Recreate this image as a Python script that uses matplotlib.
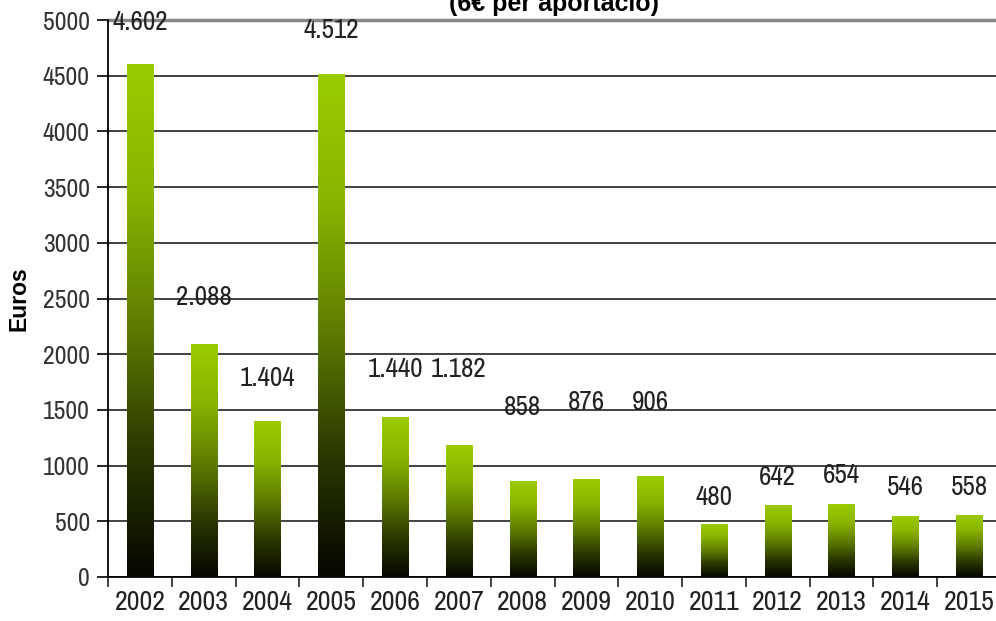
import numpy as np
import matplotlib.pyplot as plt
from matplotlib import font_manager
from matplotlib.colors import LinearSegmentedColormap
from matplotlib.ticker import MultipleLocator, FixedLocator

# data
years = ['2002', '2003', '2004', '2005', '2006', '2007', '2008',
         '2009', '2010', '2011', '2012', '2013', '2014', '2015']
euros = [4602, 2088, 1404, 4512, 1440, 1182, 858, 876, 906, 480, 642, 654, 546, 558]
value_labels = ['4.602', '2.088', '1.404', '4.512', '1.440', '1.182', '858',
                '876', '906', '480', '642', '654', '546', '558']
# where the labels sit (data units), as in the original
label_y = [4980, 2505, 1786, 4910, 1867, 1867, 1526, 1562, 1562, 718, 889, 907, 799, 799]

names = {f.name for f in font_manager.fontManager.ttflist}
narrow = 'Archivo Narrow' if 'Archivo Narrow' in names else 'DejaVu Sans'
plt.rcParams['font.family'] = [narrow, 'DejaVu Sans']

fig = plt.figure(figsize=(9.96, 6.21), dpi=100)
ax = fig.add_axes([108 / 996, 44 / 621, 893 / 996, 557 / 621])

#green-to-black gradient for each bar (bright at the top, black at the base)
cmap = LinearSegmentedColormap.from_list('grn', [(0.0, '#050700'), (0.25, '#2c3a00'),
                                                 (0.5, '#607f00'), (0.75, '#8ab400'),
                                                 (1.0, '#9bcc00')])
grad = np.linspace(0, 1, 256).reshape(-1, 1)
x = np.arange(len(years))
bw = 0.41
bars = ax.bar(x, euros, width=bw, color='none', edgecolor='none', zorder=3)
for b in bars:
    x0, y0 = b.get_x(), b.get_y()
    im = ax.imshow(grad, cmap=cmap, aspect='auto', origin='lower',
                   extent=[x0, x0 + b.get_width(), y0, y0 + b.get_height()], zorder=3)
    im.set_clip_path(b)

for xi, lab, ly in zip(x, value_labels, label_y):
    ax.text(xi, ly, lab, ha='center', va='center', fontsize=19.5, color='#222222', zorder=4)

ax.set_xlim(-0.5, len(years) - 0.5)
ax.set_ylim(0, 5000)
ax.yaxis.set_major_locator(MultipleLocator(500))
ax.set_xticks(x)
ax.set_xticklabels(years, fontsize=20, color='#222222')
ax.xaxis.set_minor_locator(FixedLocator(np.arange(-0.5, len(years), 1)))
ax.tick_params(axis='x', which='major', length=0, pad=9)
ax.tick_params(axis='x', which='minor', length=7, width=1.2, direction='out', color='#222222')
ax.tick_params(axis='y', length=8, width=1.2, direction='out', labelsize=18.5,
               labelcolor='#333333', pad=5)

ax.yaxis.grid(True, color='#333333', linewidth=1.3, zorder=1)
ax.set_axisbelow(True)
for s in ['right', 'top']:
    ax.spines[s].set_visible(False)
ax.spines['left'].set_linewidth(1.3)
ax.spines['bottom'].set_linewidth(1.3)
ax.axhline(5000, color='#888888', linewidth=2.5, zorder=2, clip_on=False)

ax.set_ylabel('Euros', fontsize=16.5, fontweight='bold', family='Liberation Sans')
ax.yaxis.set_label_coords(-77 / 893, 0.5)

fig.text(0.556, 1 - 11 / 621, '(6€ per aportació)', ha='center', va='baseline', fontsize=18,
         fontweight='bold', family='Liberation Sans')

fig.savefig('out.png', dpi=100)
